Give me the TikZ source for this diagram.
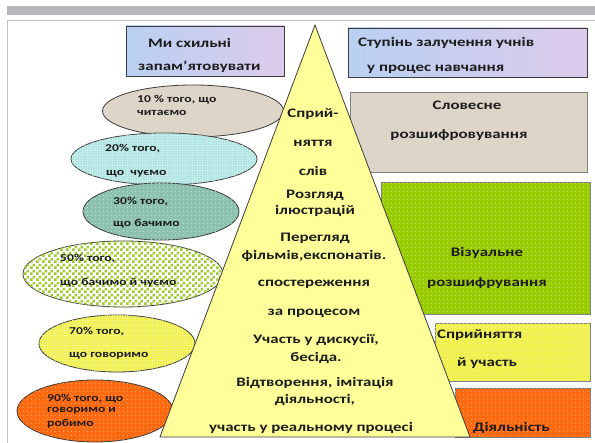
\documentclass[tikz,border=0pt]{standalone}
\usepackage{fontspec}
\setmainfont{Carlito}[FakeStretch=1.3]
\usetikzlibrary{shapes.geometric,patterns.meta}
\definecolor{framegray}{HTML}{B8B8BC}
\definecolor{lineg}{HTML}{C4C4C4}
\definecolor{edge}{HTML}{3C3C3C}
\definecolor{txt}{HTML}{1C1C1C}
\definecolor{beige}{HTML}{DDD6C8}
\definecolor{cyanE}{HTML}{B2E6E4}
\definecolor{tealE}{HTML}{8CC2AE}
\definecolor{greenE}{HTML}{9CCB2E}
\definecolor{yellowE}{HTML}{F0F050}
\definecolor{orangeE}{HTML}{FF6A10}
\definecolor{visG}{HTML}{99CC00}
\definecolor{pyr}{HTML}{FFFF99}
\definecolor{blueL}{HTML}{B9D0F2}
\definecolor{lavL}{HTML}{DCCBEA}
\tikzdeclarepattern{name=wdots,type=uncolored,
  bounding box={(-2pt,-2pt) and (2pt,2pt)},tile size={(4pt,4pt)},
  code={\fill (0pt,0pt) circle (0.6pt);}}
\tikzdeclarepattern{name=fdots,type=uncolored,
  bounding box={(-1.25pt,-1.25pt) and (1.25pt,1.25pt)},tile size={(2.5pt,2.5pt)},
  code={\fill (0pt,0pt) circle (0.55pt);}}
\tikzdeclarepattern{name=chk,type=uncolored,
  bounding box={(0pt,0pt) and (6pt,6pt)},tile size={(6pt,6pt)},
  code={\fill (0pt,0pt) rectangle (3pt,3pt); \fill (3pt,3pt) rectangle (6pt,6pt);}}
\begin{document}
\begin{tikzpicture}[x=1pt,y=-1pt,
  ell/.style={ellipse,draw=edge,line width=0.8pt,inner sep=0pt},
  boxn/.style={rectangle,draw=edge,line width=0.8pt,inner sep=0pt},
  dotted pat/.style={postaction={pattern=wdots,pattern color=#1}},
  fine pat/.style={postaction={pattern=fdots,pattern color=#1}},
  chk pat/.style={postaction={pattern=chk,pattern color=#1}},
  et/.style={font=\bfseries\fontsize{10.5}{12}\selectfont,text=txt,anchor=west,inner sep=0pt},
  pt/.style={font=\bfseries\fontsize{13}{15}\selectfont,text=txt,inner sep=0pt},
  bt/.style={font=\bfseries\fontsize{13}{15}\selectfont,text=txt,inner sep=0pt}]
\useasboundingbox (0,0) rectangle (595,443);
\fill[white] (0,0) rectangle (595,443);
% frame
\fill[framegray] (7,6) rectangle (595,15);
\draw[lineg,line width=1pt] (7,443) -- (7,21) -- (595,21);
% header boxes
\node[boxn,minimum width=158,minimum height=50,left color=blueL,right color=lavL] (hb1) at (205,51) {};
\node[boxn,minimum width=239,minimum height=49,left color=blueL,right color=lavL] (hb2) at (467.5,52.5) {};
% right boxes
\node[boxn,draw=gray,minimum width=237,minimum height=80,fill=beige] (r1) at (468.5,132) {};
\node[boxn,draw=gray,minimum width=209,minimum height=132,fill=visG,dotted pat=white!55!visG] (r2) at (485.5,248) {};
\node[boxn,draw=gray,minimum width=155,minimum height=58,fill=yellowE,dotted pat=white!60!yellowE] (r3) at (512.5,352) {};
\node[boxn,draw=gray,minimum width=135,minimum height=49,fill=orangeE,dotted pat=white!55!orangeE] (r4) at (522.5,412.5) {};
% ellipses
\node[ell,minimum width=181,minimum height=52,fill=beige] (e1) at (193,111) {};
\node[ell,minimum width=186,minimum height=52,fill=cyanE,fine pat=white!65!cyanE] (e2) at (164,159) {};
\node[ell,minimum width=156,minimum height=57,fill=tealE,dotted pat=white!55!tealE] (e3) at (161,211.5) {};
\node[ell,minimum width=200,minimum height=66,fill=white,chk pat=greenE] (e4) at (123,274) {};
\node[ell,minimum width=156,minimum height=57,fill=yellowE,fine pat=white!60!yellowE] (e5) at (117,343.5) {};
\node[ell,minimum width=156,minimum height=62,fill=orangeE,dotted pat=white!55!orangeE] (e6) at (95,411) {};
% pyramid
\coordinate (apex) at (315,25);
\coordinate (bl) at (160,437);
\coordinate (br) at (470,437);
\draw[edge,line width=0.8pt,fill=pyr,line join=miter] (apex) -- (bl) -- (br) -- cycle;
% header texts
\node[bt,anchor=west] (h1a) at (148,43) {Ми схильні};
\node[bt,anchor=west] (h1b) at (138,67) {запам’ятовувати};
\node[bt,anchor=west] (h2a) at (358,43) {Ступінь залучення учнів};
\node[bt,anchor=west] (h2b) at (367,69) {у процес навчання};
% right box texts
\node[bt] (r1a) at (467,105) {Словесне};
\node[bt] (r1b) at (459,135) {розшифровування};
\node[bt] (r2a) at (487,253) {Візуальне};
\node[bt] (r2b) at (487,283) {розшифрування};
\node[bt,anchor=west] (r3a) at (437,335) {Сприйняття};
\node[bt,anchor=west] (r3b) at (457,363) {й участь};
\node[bt,anchor=west] (r4a) at (473,428) {Діяльність};
% ellipse texts
\node[et] (t1a) at (137,100) {10 \% того, що};
\node[et] (t1b) at (137,113) {читаємо};
\node[et] (t2a) at (105,149) {20\% того,};
\node[et] (t2b) at (106,174) {що~~чуємо};
\node[et] (t3a) at (113,202) {30\% того,};
\node[et] (t3b) at (113,224) {що бачимо};
\node[et] (t4a) at (60,259) {50\% того,};
\node[et] (t4b) at (60,283) {що бачимо й чуємо};
\node[et] (t5a) at (69,332) {70\% того,};
\node[et] (t5b) at (69,356) {що говоримо};
\node[et] (t6a) at (47,399) {90\% того, що};
\node[et] (t6b) at (47,411) {говоримо и};
\node[et] (t6c) at (47,424) {робимо};
% pyramid texts
\node[pt] (p1) at (313,114) {Сприй-};
\node[pt] (p2) at (313,143) {няття};
\node[pt] (p3) at (313,171) {слів};
\node[pt] (p4) at (315,195) {Розгляд};
\node[pt] (p5) at (315,211) {ілюстрацій};
\node[pt] (p6) at (315,238) {Перегляд};
\node[pt] (p7) at (314,256) {фільмів,експонатів.};
\node[pt] (p8) at (314,284) {спостереження};
\node[pt] (p9) at (314,313) {за процесом};
\node[pt] (p10) at (316,340) {Участь у дискусії,};
\node[pt] (p11) at (316,358) {бесіда.};
\node[pt] (p12) at (315,383) {Відтворення, імітація};
\node[pt] (p13) at (315,400) {діяльності,};
\node[pt] (p14) at (311,428) {участь у реальному процесі};
\end{tikzpicture}
\end{document}
